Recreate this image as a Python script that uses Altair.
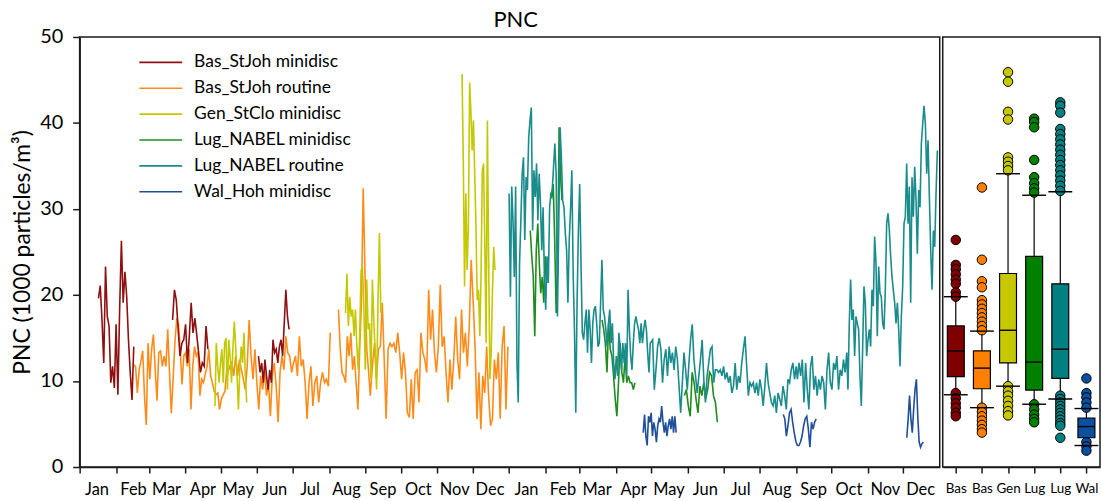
import altair as alt
import pandas as pd

SERIES = ["Bas_StJoh minidisc", "Bas_StJoh routine", "Gen_StClo minidisc",
          "Lug_NABEL minidisc", "Lug_NABEL routine", "Wal_Hoh minidisc"]
LINE_COLORS = ["#8E1010", "#FF8C1A", "#C4C800", "#1E8C1E", "#1A8C8C", "#1F4E9A"]
DRAW_ORDER = [1, 0, 2, 3, 4, 5]

# ---- time series values (1000 particles/m3) ----
bas_mini_1 = [19.6, 21.1, 17.1, 12.1, 23.3, 17.5, 16.4, 9.8, 11.7, 9.2, 16.6, 8.4, 18.3, 26.3,
              19.1, 22.7, 19.8, 14.8, 11.0, 7.8, 14.0]
bas_mini_2 = [17.1, 20.6, 19.4, 16.0, 12.9, 14.4, 14.8, 16.6, 12.1, 15.2, 19.1, 15.6, 17.3, 15.4,
              13.3, 11.0, 12.1, 11.7, 16.4, 13.7]
bas_mini_3 = [12.9, 11.0, 12.1, 9.8, 12.5, 10.6, 9.0, 11.3, 9.8, 14.8, 13.3, 13.7, 12.1, 14.0,
              14.8, 12.9, 16.7, 20.6, 17.5, 16.0]

bas_rout_1 = [11.9, 11.7, 8.6, 11.3, 12.3, 13.5, 8.3, 4.9, 14.4, 10.2, 13.7, 15.4, 11.3, 7.7,
              13.3, 13.5, 11.7, 12.9, 11.7, 16.0, 11.0, 6.25, 10.2, 14.4, 17.1, 16.7, 13.7, 9.6,
              12.9, 13.3, 11.7, 13.7, 6.7, 11.7, 14.0, 12.9, 13.3, 8.3, 10.2, 9.8, 10.8, 11.7,
              13.7, 10.6, 9.8, 8.8, 8.4, 8.6, 6.7, 7.9, 8.4, 8.8, 11.3]
bas_rout_2 = [11.0, 11.7, 12.1, 10.6, 12.9, 10.6, 12.5, 11.3, 10.2, 9.0, 11.7, 17.1, 12.9, 10.2,
              13.7, 9.8, 6.7, 10.6, 9.0, 11.3, 8.3, 9.8, 5.9, 10.6, 12.1, 9.4, 5.2, 11.0, 12.9,
              11.3, 15.2, 13.3, 12.9, 11.0, 12.1, 12.9, 10.6, 15.2, 11.7, 12.5, 9.8, 5.6, 9.8,
              11.7, 7.1, 9.8, 10.6, 7.5, 9.8, 11.0, 9.8, 10.2, 9.4, 15.6]
bas_rout_3 = [18.3, 13.7, 11.0, 10.6, 9.8, 15.2, 12.9, 15.6, 11.3, 12.9, 9.8, 6.7, 13.7, 19.1,
              32.4, 22.9, 13.7, 11.3, 8.3]
bas_rout_4 = [12.1, 14.4, 10.2, 13.7, 14.0, 19.1, 12.5, 5.6, 13.7, 14.4, 14.0, 14.4, 13.3, 15.6,
              13.3, 10.2, 13.3, 11.0, 6.3, 5.75, 10.2, 5.6, 11.0, 11.3, 7.5, 15.6, 13.3, 12.5,
              11.0, 20.6, 14.8, 18.3, 13.3, 11.0, 14.0, 21.2, 14.0, 15.2, 11.0, 7.5, 12.5, 9.0,
              12.5, 17.5, 12.5, 10.2, 18.3, 13.3, 15.6, 11.7, 16.4, 24.1, 19.4, 14.0, 5.6, 11.0,
              4.4, 10.6, 8.6, 14.0, 8.3, 4.8, 5.6, 12.5, 10.2, 13.3, 5.6, 14.0, 16.4, 6.7, 14.0]

gen_1 = [7.1, 14.4, 11.7, 9.8, 12.1, 13.7, 9.8, 14.4, 15.0, 9.0, 14.8, 12.9, 9.8, 13.7, 16.9,
         14.0, 10.6, 6.7, 11.3, 14.0, 12.1, 15.6, 10.6, 7.5]
gen_2 = [17.9, 22.5, 16.4, 19.8, 17.5, 18.3, 15.2, 18.3, 14.0, 11.3, 15.2, 22.9, 23.3, 18.3,
         11.3, 21.8, 16.0, 16.7, 10.2, 21.8, 17.1, 13.3, 9.0, 19.4, 27.2, 17.9]
gen_3 = [45.7, 35.6, 21.0, 31.8, 22.9, 27.9, 44.7, 41.4, 36.8, 40.3, 34.1, 27.9, 19.4, 20.6,
         15.2, 22.1, 34.5, 35.3, 25.6, 14.4, 40.3, 24.1, 10.2, 13.3, 20.2, 25.6, 22.9]

lug_mini_1 = [27.5, 24.5, 22.1, 15.2, 25.2, 28.3, 23.7, 20.2, 22.1, 19.1, 24.5, 21.4]
lug_mini_2 = [31.8, 31.4, 32.9, 26.4, 17.9, 22.9, 39.5, 33.7, 31.0]
lug_mini_3 = [17.1, 16.0, 14.4, 11.0, 16.7, 13.7, 12.9, 10.6, 7.9, 5.9, 9.8, 14.4, 11.0, 9.8,
              12.9, 9.8, 10.6, 9.8, 9.8, 9.0, 9.8]
lug_mini_4 = [8.3, 9.0, 7.1, 5.9, 11.0, 9.8, 7.9, 6.3, 9.4, 8.3, 9.8, 7.9, 9.0, 11.0, 10.6, 8.3,
              7.5, 5.2]

lug_rout_1 = [31.8, 19.8, 32.6, 28.7, 22.1, 32.6, 12.1, 7.5, 23.7, 28.7, 34.1, 36.0, 26.4, 33.7,
              32.2, 38.3, 40.3, 41.8, 27.5, 34.5, 31.4, 35.3, 28.7, 34.1, 30.6, 25.2, 30.2, 22.1,
              18.3, 24.5, 21.4, 30.2, 31.8, 32.2, 34.9, 37.6, 34.1, 17.5, 28.3, 39.5, 36.0, 31.0,
              30.2, 27.2, 25.2, 19.1, 26.4, 29.9, 34.5, 22.5, 16.0, 6.3, 19.1, 27.5, 32.9, 23.7,
              15.6, 14.8, 16.7, 18.3, 13.3, 18.3, 16.0, 12.1, 16.7, 18.3, 18.7, 16.7, 14.0, 14.4,
              19.1, 24.1, 18.3, 17.5, 16.0, 14.0, 16.7, 18.3, 14.4, 16.7, 12.1, 10.2, 12.9, 10.6,
              15.6, 13.7, 11.3, 14.4, 12.1, 14.4, 10.6, 20.6, 16.0, 12.9, 11.3, 14.4, 16.7, 17.5,
              16.7, 16.0, 14.4, 16.7, 14.4, 16.0, 17.1, 16.0, 13.3, 11.0, 14.4]
lug_rout_2 = [14.8, 9.0, 11.3, 14.0, 15.0, 13.7, 9.8, 12.5, 13.7, 10.6, 14.0, 12.1, 13.3, 11.3,
              14.0, 12.5, 9.4, 6.3, 9.8, 13.3, 11.3, 9.0, 12.1, 14.8, 16.6, 12.5, 10.6, 8.6, 10.6,
              12.5, 14.8, 10.2, 7.5, 10.6, 12.1, 13.7, 14.0, 9.8, 11.3, 11.3, 11.0, 11.3, 10.6,
              11.7, 10.2, 11.0, 9.8, 10.6, 8.6, 9.4, 12.1, 9.0, 10.6, 9.8, 12.1, 13.7, 15.2, 11.7,
              8.3, 9.8, 9.4, 9.8, 8.6, 9.8, 8.3, 10.2, 9.0, 7.1, 9.4, 12.1, 9.8, 8.6, 7.5, 7.1,
              8.3, 6.3, 8.6, 7.9, 7.1, 9.4, 8.3, 6.7, 10.2, 9.8, 11.3, 12.1, 10.2, 11.7]
lug_rout_3 = [10.2, 12.1, 10.6, 12.5, 7.5, 12.1, 9.0, 6.7, 11.7, 12.9, 9.0, 10.6, 8.3, 10.2, 9.0,
              10.6, 9.8, 6.7, 11.3, 13.3, 9.8, 9.0, 12.1, 11.3, 12.9, 9.0, 11.3, 10.6, 12.5, 11.0,
              13.3]
lug_rout_4 = [9.0, 16.7, 21.8, 17.1, 18.3, 12.9, 17.5, 16.7, 16.0, 10.6, 7.1, 13.7, 21.0, 19.1,
              12.9, 14.8, 16.0, 14.0, 20.6, 18.7, 26.8, 23.7, 15.2, 23.3, 20.2, 19.8, 16.7, 16.0,
              20.6, 28.3, 29.5, 27.5, 24.5, 22.1, 20.6, 19.1, 16.7, 19.1, 16.0, 11.7, 17.5, 21.0,
              28.3, 29.1, 35.3, 28.3, 32.6, 19.1, 33.7, 29.1, 34.9, 31.0, 24.8, 32.2, 30.2, 37.6,
              39.9, 42.0, 39.9, 34.1, 38.0, 31.4, 25.2, 20.6, 27.5, 25.6, 31.8, 36.8]

wal_1 = [4.0, 6.1, 3.6, 2.5, 5.9, 5.2, 6.3, 3.6, 5.2, 4.4, 2.9, 4.8, 5.6, 5.2, 7.1, 5.2, 4.0, 5.2,
         3.6, 4.8, 5.6, 4.4, 5.9, 4.0, 5.9, 4.0]
wal_2 = [6.1, 5.6, 3.6, 4.8, 6.3, 6.7, 5.2, 4.0, 3.0, 2.5, 2.5, 2.9, 3.6, 4.8, 5.6, 5.9, 4.4, 2.3,
         5.2, 4.4, 5.2, 5.6]
wal_3 = [3.4, 5.6, 8.3, 5.6, 4.0, 6.7, 9.0, 10.2, 5.9, 2.9, 2.3, 2.7, 2.9]

# series index, segment, first date, last date, values
PIECES = [
    (0, "a", "2015-01-17", "2015-02-16", bas_mini_1),
    (0, "b", "2015-03-21", "2015-04-20", bas_mini_2),
    (0, "c", "2015-06-02", "2015-06-28", bas_mini_3),
    (1, "a", "2015-02-16", "2015-05-06", bas_rout_1),
    (1, "a", "2015-05-07", "2015-08-02", bas_rout_2),
    (1, "b", "2015-08-09", "2015-09-05", bas_rout_3),
    (1, "b", "2015-09-07", "2015-12-31", bas_rout_4),
    (2, "a", "2015-04-26", "2015-05-23", gen_1),
    (2, "b", "2015-08-15", "2015-09-14", gen_2),
    (2, "c", "2015-11-22", "2015-12-20", gen_3),
    (3, "a", "2016-01-19", "2016-02-02", lug_mini_1),
    (3, "b", "2016-02-05", "2016-02-15", lug_mini_2),
    (3, "c", "2016-03-20", "2016-04-17", lug_mini_3),
    (3, "d", "2016-05-29", "2016-06-26", lug_mini_4),
    (4, "a", "2016-01-01", "2016-04-30", lug_rout_1),
    (4, "a", "2016-05-02", "2016-09-01", lug_rout_2),
    (4, "a", "2016-09-02", "2016-10-14", lug_rout_3),
    (4, "a", "2016-10-15", "2016-12-30", lug_rout_4),
    (5, "a", "2016-04-24", "2016-05-22", wal_1),
    (5, "b", "2016-08-21", "2016-09-18", wal_2),
    (5, "c", "2016-12-04", "2016-12-18", wal_3),
]

# ---- box plot statistics ----
BOX_LABELS = ["Bas", "Bas", "Gen", "Lug", "Lug", "Wal"]
BOX_COLORS = ["#800000", "#FF8000", "#C8C800", "#008000", "#008080", "#0A4FA0"]
box_lo = [8.4, 6.9, 9.4, 7.3, 7.9, 2.5]
box_q1 = [10.5, 9.1, 12.1, 8.95, 10.3, 3.4]
box_med = [13.5, 11.5, 15.9, 12.2, 13.7, 4.7]
box_q3 = [16.4, 13.5, 22.5, 24.5, 21.3, 5.7]
box_hi = [19.8, 15.8, 34.1, 31.6, 32.0, 6.8]
box_outliers = [
    [26.4, 23.5, 23.0, 22.4, 21.8, 21.3, 20.3, 19.8, 8.6, 8.0, 7.4, 6.9, 6.3, 5.9],
    [32.5, 24.1, 21.6, 20.9, 19.4, 18.9, 18.4, 17.9, 17.4, 16.9, 16.4, 15.9,
     6.9, 6.4, 5.9, 5.4, 4.9, 4.4, 4.0],
    [45.9, 44.8, 41.3, 40.4, 36.0, 35.5, 35.0, 34.5, 9.4, 8.8, 8.3, 7.7, 7.1, 6.5, 6.0],
    [40.5, 40.1, 39.5, 35.7, 33.7, 33.0, 32.4, 31.9, 7.3, 6.7, 6.1, 5.6, 5.2],
    [42.4, 42.0, 41.2, 39.3, 38.7, 38.1, 37.5, 36.9, 36.3, 35.7, 35.1, 34.5, 33.9, 33.3,
     32.7, 32.1, 8.3, 7.9, 7.5, 7.1, 6.7, 6.3, 5.9, 5.5, 5.1, 4.8, 3.4],
    [10.3, 8.6, 8.1, 7.5, 6.9, 2.9, 2.4, 1.9],
]

Y_TICKS = [0, 10, 20, 30, 40, 50]
FONT = "Lato"

# ---- build tables ----
rows = []
for s, seg, d0, d1, vals in PIECES:
    dates = pd.date_range(d0, d1, periods=len(vals))
    for d, v in zip(dates, vals):
        rows.append({"series": SERIES[s], "seg": f"{s}{seg}",
                     "date": d.strftime("%Y-%m-%dT%H:%M:%S"), "pnc": v})
ts = pd.DataFrame(rows)

month_ticks = [alt.DateTime(year=d.year, month=d.month, date=1)
               for d in pd.date_range("2015-01-01", "2016-12-01", freq="MS")]

ydom = alt.Scale(domain=[0, 50], nice=False, zero=True, padding=0)

x_ts = alt.X("date:T",
             scale=alt.Scale(domain=[alt.DateTime(year=2015, month=1, date=1),
                                     alt.DateTime(year=2017, month=1, date=1)]),
             axis=alt.Axis(title=None, values=month_ticks, format="%b", labelOffset=17,
                           tickSize=6, labelFontSize=16.5, labelPadding=9, labelFlush=False,
                           labelOverlap=False, labelBound=False))
y_ts = alt.Y("pnc:Q", scale=ydom,
             axis=alt.Axis(values=Y_TICKS, title="PNC (1000 particles/m³)", tickSize=7,
                           labelFontSize=20, titleFontSize=23, titleFontWeight="normal",
                           labelPadding=10, titlePadding=5))
col = alt.Color("series:N", scale=alt.Scale(domain=SERIES, range=LINE_COLORS),
                legend=alt.Legend(title=None, orient="none", legendX=59, legendY=17,
                                  symbolType="stroke", symbolSize=1849,
                                  symbolStrokeWidth=1.6, clipHeight=17, labelFontSize=17.5,
                                  labelOffset=11, rowPadding=8, padding=0))

base = alt.Chart(ts).encode(x=x_ts, y=y_ts, color=col, detail="seg:N")
layers = [base.transform_filter(alt.datum.series == SERIES[i]).mark_line(strokeWidth=1.6)
          for i in DRAW_ORDER]
left = alt.layer(*layers).properties(
    width=864, height=432,
    title=alt.TitleParams("PNC", fontSize=22, fontWeight="normal", offset=-5, dx=6))

# ---- box panel ----
box_df = pd.DataFrame({"pos": list(range(1, 7)), "lab": BOX_LABELS, "fill": BOX_COLORS,
                       "lo": box_lo, "q1": box_q1, "med": box_med, "q3": box_q3,
                       "hi": box_hi})
out_rows = []
for i, vals in enumerate(box_outliers):
    for v in vals:
        out_rows.append({"pos": i + 1, "fill": BOX_COLORS[i], "v": v})
out_df = pd.DataFrame(out_rows)

label_expr = "[" + ",".join(f"'{t}'" for t in BOX_LABELS) + "][datum.value - 1]"
xb = alt.X("pos:Q", scale=alt.Scale(domain=[0.5, 6.52], nice=False, zero=False, padding=0),
           axis=alt.Axis(title=None, values=list(range(1, 7)), labelExpr=label_expr,
                         tickSize=6, labelFontSize=13.5, labelPadding=9, labelFlush=False,
                         labelBound=False))

whisk = alt.Chart(box_df).mark_rule(color="black", strokeWidth=1.2).encode(
    x=xb, y=alt.Y("lo:Q", scale=ydom, axis=None), y2="hi:Q")
outs = alt.Chart(out_df).mark_point(shape="circle", filled=True, size=90, stroke="black",
                                    strokeWidth=1, opacity=1).encode(
    x=xb, y=alt.Y("v:Q", scale=ydom, axis=None), fill=alt.Fill("fill:N", scale=None))
boxes = alt.Chart(box_df).mark_bar(size=17, stroke="black", strokeWidth=1.2, opacity=1).encode(
    x=xb, y=alt.Y("q1:Q", scale=ydom, axis=None), y2="q3:Q",
    fill=alt.Fill("fill:N", scale=None))
meds = alt.Chart(box_df).mark_tick(orient="horizontal", size=17, thickness=1.4,
                                   color="black", opacity=1).encode(
    x=xb, y=alt.Y("med:Q", scale=ydom, axis=None))
caps = alt.Chart(box_df).transform_fold(["lo", "hi"], as_=["k", "cv"]).mark_tick(
    orient="horizontal", size=24, thickness=1.4, color="black", opacity=1).encode(
    x=xb, y=alt.Y("cv:Q", scale=ydom, axis=None))

right = alt.layer(whisk, outs, boxes, meds, caps).properties(width=158, height=432)

chart = alt.hconcat(left, right, spacing=0).properties(
    padding={"left": 11, "top": 7, "right": 0, "bottom": 0}
).configure(font=FONT).configure_view(stroke="#1a1a1a", strokeWidth=1.5).configure_axis(
    domainColor="#1a1a1a", tickColor="#1a1a1a", labelColor="#000", titleColor="#000",
    grid=False, domainWidth=1.5, tickWidth=1.5, labelFont=FONT, titleFont=FONT
).configure_legend(labelFont=FONT, labelColor="#000").configure_title(font=FONT, color="#000")

chart.save("out.html", embed_options={"renderer": "svg", "actions": False})
